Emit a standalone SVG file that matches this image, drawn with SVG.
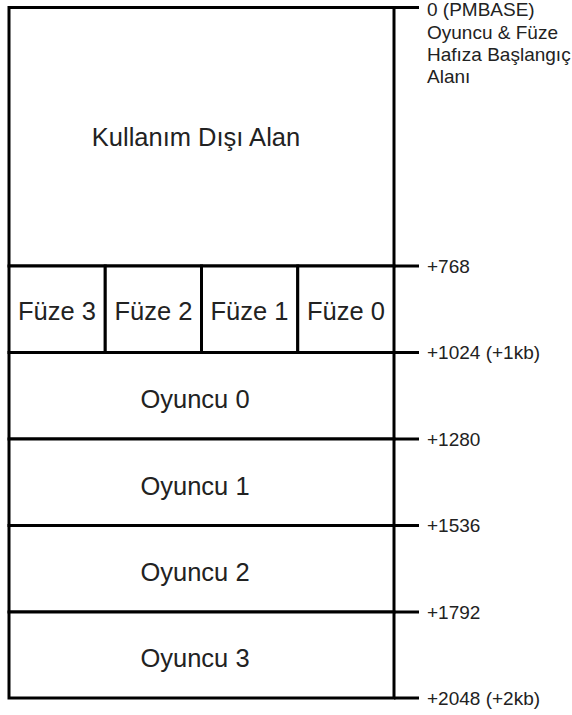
<svg xmlns="http://www.w3.org/2000/svg" width="572" height="715" viewBox="0 0 572 715">
  <style>
    .box { fill: #fff; stroke: #000; stroke-width: 3; }
    .ln { stroke: #000; stroke-width: 3; fill: none; }
    .main { font-family: "Liberation Sans", Arial, sans-serif; font-size: 25.5px; fill: #222; text-anchor: middle; }
    .lbl { font-family: "Liberation Sans", Arial, sans-serif; font-size: 19px; fill: #222; }
  </style>
  <rect width="572" height="715" fill="#fff"/>

  <!-- memory map blocks -->
  <g id="unused">
    <rect class="box" x="9" y="7.5" width="385" height="258.5"/>
    <text class="main" x="196" y="146">Kullanım Dışı Alan</text>
  </g>
  <g id="fuze3">
    <rect class="box" x="9" y="266" width="96.25" height="86.5"/>
    <text class="main" x="57" y="320">Füze 3</text>
  </g>
  <g id="fuze2">
    <rect class="box" x="105.25" y="266" width="96.25" height="86.5"/>
    <text class="main" x="153.5" y="320">Füze 2</text>
  </g>
  <g id="fuze1">
    <rect class="box" x="201.5" y="266" width="96.25" height="86.5"/>
    <text class="main" x="249.5" y="320">Füze 1</text>
  </g>
  <g id="fuze0">
    <rect class="box" x="297.75" y="266" width="96.25" height="86.5"/>
    <text class="main" x="346" y="320">Füze 0</text>
  </g>
  <g id="oyuncu0">
    <rect class="box" x="9" y="352.5" width="385" height="86.5"/>
    <text class="main" x="195" y="408">Oyuncu 0</text>
  </g>
  <g id="oyuncu1">
    <rect class="box" x="9" y="439" width="385" height="86.5"/>
    <text class="main" x="195" y="494.5">Oyuncu 1</text>
  </g>
  <g id="oyuncu2">
    <rect class="box" x="9" y="525.5" width="385" height="86.5"/>
    <text class="main" x="195" y="581">Oyuncu 2</text>
  </g>
  <g id="oyuncu3">
    <rect class="box" x="9" y="612" width="385" height="86"/>
    <text class="main" x="195" y="667">Oyuncu 3</text>
  </g>

  <!-- address ticks -->
  <g id="connectors">
    <path class="ln" d="M394 7.5H419M394 266H419M394 352.5H419M394 439H419M394 525.5H419M394 612H419M394 698H419"/>
  </g>

  <!-- offset labels -->
  <g id="labels">
    <text class="lbl" x="427" y="16">0 (PMBASE)</text>
    <text class="lbl" x="427" y="38.5">Oyuncu &amp; Füze</text>
    <text class="lbl" x="427" y="61">Hafıza Başlangıç</text>
    <text class="lbl" x="427" y="83">Alanı</text>
    <text class="lbl" x="427" y="272.5">+768</text>
    <text class="lbl" x="427" y="359">+1024 (+1kb)</text>
    <text class="lbl" x="427" y="445.5">+1280</text>
    <text class="lbl" x="427" y="532">+1536</text>
    <text class="lbl" x="427" y="618.5">+1792</text>
    <text class="lbl" x="427" y="704.5">+2048 (+2kb)</text>
  </g>
</svg>
